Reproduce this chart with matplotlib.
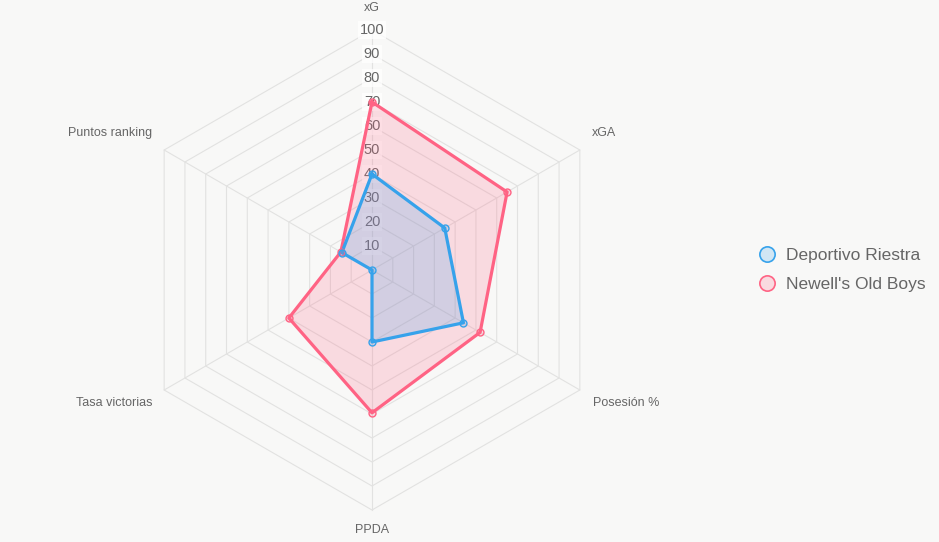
import numpy as np
import matplotlib
matplotlib.use("Agg")
import matplotlib.pyplot as plt
from matplotlib.lines import Line2D

plt.rcParams['font.family'] = ['Liberation Sans', 'DejaVu Sans']

categories = ["xG", "xGA", "Posesión %", "PPDA", "Tasa victorias", "Puntos ranking"]
riestra = [40, 35, 44, 30, 0, 14.5]
newells = [70, 65, 52, 59.5, 40, 15]
series_names = ["Deportivo Riestra", "Newell's Old Boys"]
tick_values = [10, 20, 30, 40, 50, 60, 70, 80, 90, 100]

BG = '#f8f8f7'
GRID = '#e2e2e1'
TXT = '#666666'
BLUE = '#36A2EB'
PINK = '#FF6384'

W, H = 939, 542
fig = plt.figure(figsize=(W/100, H/100), dpi=100, facecolor=BG)
cx, cy, R = 372, 270, 240
ax = fig.add_axes([(cx-R)/W, (H-cy-R)/H, 2*R/W, 2*R/H], projection='polar')
ax.set_facecolor('none')
ax.set_theta_zero_location('N')
ax.set_theta_direction(-1)
ax.set_ylim(0, 100)
ax.grid(False)
ax.spines['polar'].set_visible(False)
ax.set_xticks([])
ax.set_yticks([])

n = len(categories)
angles = np.arange(n) * 2*np.pi/n
closed = np.concatenate([angles, angles[:1]])

# hexagonal grid
for t in tick_values:
    ax.plot(closed, [t]*(n+1), color=GRID, lw=0.8, zorder=1, clip_on=False)
for a in angles:
    ax.plot([a, a], [0, 100], color=GRID, lw=0.8, zorder=1, clip_on=False)

# tick labels
for t in tick_values:
    ax.text(0, t, str(t), ha='center', va='center', fontsize=10.5, color=TXT, zorder=2,
            bbox=dict(boxstyle='square,pad=0.12', fc=(1, 1, 1, 0.75), ec='none'))

# data
for vals, col in [(newells, PINK), (riestra, BLUE)]:
    v = list(vals) + [vals[0]]
    ax.fill(closed, v, color=col, alpha=0.2, lw=0, zorder=3)
    ax.plot(closed, v, color=col, lw=2.3, zorder=4, clip_on=False)
    ax.plot(angles, vals, 'o', ms=5, mfc=matplotlib.colors.to_rgba(col, 0.2), mec=col,
            mew=1, zorder=5, clip_on=False)

# point labels
offsets = [(0, 22, 'center'), (12, 17, 'left'), (13, -13, 'left'),
           (0, -20, 'center'), (-12, -13, 'right'), (-12, 17, 'right')]
for a, lab, (dx, dy, ha) in zip(angles, categories, offsets):
    ax.annotate(lab, xy=(a, 100), xytext=(dx, dy), textcoords='offset pixels',
                ha=ha, va='center', fontsize=9, color=TXT, annotation_clip=False)

handles = [Line2D([], [], ls='none', marker='o', ms=11, mfc=matplotlib.colors.to_rgba(c, 0.2),
                  mec=c, mew=1.2) for c in (BLUE, PINK)]
leg = fig.legend(handles, series_names, loc='center left', bbox_to_anchor=(741/W, 1-270/H),
                 frameon=False, fontsize=12.5, handletextpad=0.5, labelspacing=0.8,
                 handlelength=1.2)
for t in leg.get_texts():
    t.set_color(TXT)

fig.savefig('out.png', dpi=100, facecolor=BG)
